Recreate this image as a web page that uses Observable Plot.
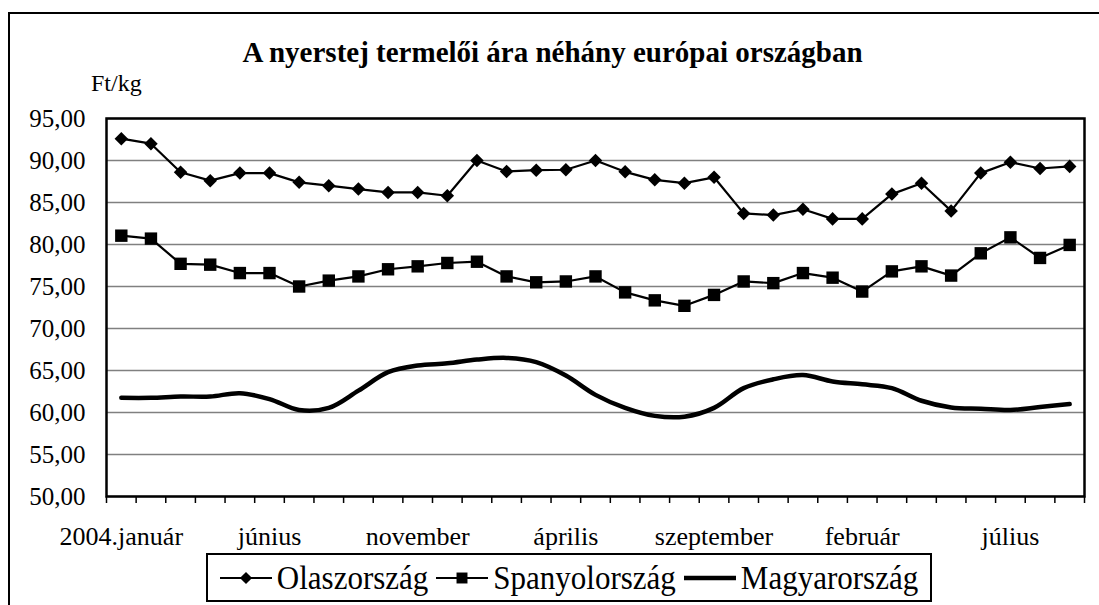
<!DOCTYPE html>
<html>
<head>
<meta charset="utf-8">
<script src="https://cdn.jsdelivr.net/npm/d3@7"></script>
<script src="https://cdn.jsdelivr.net/npm/@observablehq/plot@0.6"></script>
<style>
  body { margin: 0; background: #fff; }
  #wrap { position: relative; width: 1099px; height: 605px; overflow: hidden; font-family: "Liberation Serif", "Times New Roman", serif; color: #000; }
  #chart { position: absolute; left: 0; top: 0; }
  #frame { position: absolute; left: 8px; top: 12px; width: 1200px; height: 700px; border-left: 2px solid #000; border-top: 2px solid #000; pointer-events: none; }
  #title { position: absolute; left: 0; top: 38px; width: 1105px; text-align: center; font-weight: bold; font-size: 29px; line-height: 29px; }
  #unit { position: absolute; left: 91px; top: 71px; font-size: 24px; line-height: 24px; }
  #legend { position: absolute; left: 206px; top: 553px; width: 726px; height: 49px; border: 2px solid #000; background: #fff; display: flex; align-items: center; justify-content: center; font-size: 31px; box-sizing: border-box; white-space: nowrap; }
  #legend .item { display: flex; align-items: center; margin: 0 4px; }
  #legend svg { margin-right: 5px; }
  #legend span { display: inline-block; transform: scaleY(1.06); }
</style>
</head>
<body>
<div id="wrap">
  <div id="chart"></div>
  <div id="frame"></div>
  <div id="title"></div>
  <div id="unit"></div>
  <div id="legend"></div>
</div>
<script>
// ---- data (Ft/kg), 2004. január … 2006. szeptember, monthly ----
const titleText = "A nyerstej termelői ára néhány európai országban";
const unitText = "Ft/kg";
const seriesNames = ["Olaszország", "Spanyolország", "Magyarország"];
const tickLabels = ["2004.január", "június", "november", "április", "szeptember", "február", "július"];
const tickIndex = [0, 5, 10, 15, 20, 25, 30];
const yTicks = [50, 55, 60, 65, 70, 75, 80, 85, 90, 95];

const olasz = [92.6, 92.0, 88.6, 87.6, 88.5, 88.5, 87.4, 87.0, 86.6, 86.2, 86.2, 85.8,
  90.0, 88.7, 88.85, 88.9, 90.0, 88.65, 87.7, 87.3, 88.0, 83.7, 83.5, 84.2,
  83.05, 83.05, 86.0, 87.3, 84.0, 88.5, 89.8, 89.05, 89.3];
const spanyol = [81.05, 80.7, 77.7, 77.6, 76.6, 76.6, 75.0, 75.7, 76.2, 77.05, 77.4, 77.8,
  77.95, 76.2, 75.5, 75.6, 76.2, 74.3, 73.35, 72.7, 74.0, 75.6, 75.4, 76.6,
  76.05, 74.4, 76.8, 77.4, 76.3, 78.95, 80.85, 78.4, 79.95];
const magyar = [61.75, 61.75, 61.9, 61.9, 62.3, 61.6, 60.3, 60.55, 62.6, 64.8, 65.6, 65.85,
  66.3, 66.5, 66.0, 64.4, 62.1, 60.55, 59.6, 59.5, 60.55, 62.9, 63.95, 64.45,
  63.7, 63.35, 62.9, 61.4, 60.6, 60.45, 60.3, 60.65, 61.0];

// ---- build table ----
const n = olasz.length;
const rows = d3.range(n).map(i => ({ i, olasz: olasz[i], spanyol: spanyol[i], magyar: magyar[i] }));
const fmt = d => d.toFixed(2).replace(".", ",");
const boundaries = d3.range(-0.5, n, 1);

const chart = Plot.plot({
  width: 1099,
  height: 605,
  marginLeft: 106,
  marginRight: 15,
  marginTop: 118,
  marginBottom: 109,
  style: { background: "transparent", fontFamily: "'Liberation Serif', 'Times New Roman', serif", fontSize: "24px", color: "#000" },
  x: { type: "linear", domain: [-0.5, n - 0.5] },
  y: { domain: [50, 95] },
  marks: [
    Plot.gridY(yTicks, { stroke: "#808080", strokeOpacity: 1, strokeWidth: 1.3 }),
    Plot.axisY(yTicks, { tickSize: 0, tickPadding: 21, tickFormat: fmt, fontSize: 25, label: null }),
    Plot.axisX(boundaries, { tickSize: 7, tickFormat: () => "", stroke: "#000", strokeWidth: 1.5, label: null }),
    Plot.axisX(tickIndex, { tickSize: 0, tickPadding: 30, tickFormat: d => tickLabels[tickIndex.indexOf(d)], fontSize: 26, label: null }),
    Plot.frame({ stroke: "#000", strokeWidth: 2.5 }),
    Plot.line(rows, { x: "i", y: "magyar", curve: "catmull-rom", stroke: "#000", strokeWidth: 4.5 }),
    Plot.line(rows, { x: "i", y: "spanyol", stroke: "#000", strokeWidth: 2.2 }),
    Plot.dot(rows, { x: "i", y: "spanyol", symbol: "square", r: 7, fill: "#000", stroke: "none" }),
    Plot.line(rows, { x: "i", y: "olasz", stroke: "#000", strokeWidth: 2.2 }),
    Plot.dot(rows, { x: "i", y: "olasz", symbol: "diamond2", r: 6.1, fill: "#000", stroke: "none" })
  ]
});
document.getElementById("chart").appendChild(chart);
document.getElementById("title").textContent = titleText;
document.getElementById("unit").textContent = unitText;

// ---- legend ----
const legend = d3.select("#legend");
const sym = [d3.symbolDiamond2, d3.symbolSquare, null];
seriesNames.forEach((name, k) => {
  const item = legend.append("div").attr("class", "item");
  const s = item.append("svg").attr("width", 52).attr("height", 20);
  s.append("line").attr("x1", 0).attr("x2", 52).attr("y1", 10).attr("y2", 10)
    .attr("stroke", "#000").attr("stroke-width", k === 2 ? 4.5 : 2);
  if (sym[k]) {
    s.append("path").attr("transform", "translate(26,10)")
      .attr("d", d3.symbol(sym[k], k === 0 ? 95 : 120)()).attr("fill", "#000");
  }
  item.append("span").text(name);
});
</script>
</body>
</html>
